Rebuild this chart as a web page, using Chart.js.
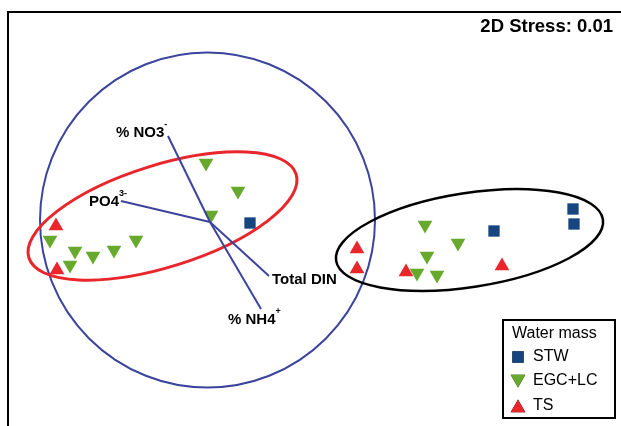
<!DOCTYPE html>
<html>
<head>
<meta charset="utf-8">
<script src="https://cdn.jsdelivr.net/npm/chart.js@4"></script>
<style>
  html, body { margin: 0; padding: 0; background: #fff; overflow: hidden; }
  #wrap { width: 621px; height: 426px; }
</style>
</head>
<body>
<div id="wrap"><canvas id="mds" width="621" height="426"></canvas></div>
<script>
// nMDS ordination coordinates (arbitrary units)
var stwPoints = [[242, 203], [486, 195], [565, 217], [566, 202]];
var egcPoints = [[198, 263], [230, 235], [203, 211], [42, 186], [67, 175], [62, 161],
                 [85, 170], [106, 176], [128, 186], [417, 201], [450, 183], [419, 170],
                 [409, 153], [429, 151]];
var tsPoints = [[48, 200], [49, 156], [349, 177], [349, 157], [398, 154], [494, 160]];

// vector overlay (origin + end of each variable)
var vectorOrigin = [202, 204];
var vectorNames = ['% NO3', '% NH4', 'PO4', 'Total DIN'];
var vectorEnds = [[160, 290], [253, 117], [113, 225], [261, 150]];

// correlation circle and cluster ellipses: [cx, cy, a, b, angleDeg]
var circle = [199.5, 206, 167.5];
var redEllipse = [154.5, 210, 140, 51, 17.35];
var blackEllipse = [461.5, 186, 135, 47, 8.8];

var stressText = '2D Stress: 0.01';

var BLUE_LINE = '#3b449c';
var STW_COL = '#17457f';
var EGC_COL = '#67a92d';
var TS_COL = '#e8262b';
var FONT = '"Liberation Sans", Arial, sans-serif';

function toXY(arr) {
    return arr.map(function (p) { return { x: p[0], y: p[1] }; });
}

var vectorSets = vectorEnds.map(function (e, i) {
    return {
        type: 'line',
        label: vectorNames[i],
        data: [{ x: vectorOrigin[0], y: vectorOrigin[1] }, { x: e[0], y: e[1] }],
        borderColor: BLUE_LINE,
        borderWidth: 2,
        pointRadius: 0,
        showLine: true,
        fill: false
    };
});

var shapesPlugin = {
    id: 'shapes',
    beforeDatasetsDraw: function (chart) {
        var ctx = chart.ctx, xs = chart.scales.x, ys = chart.scales.y;
        var ppu = xs.getPixelForValue(1) - xs.getPixelForValue(0);
        ctx.save();
        // frame
        ctx.strokeStyle = '#000';
        ctx.lineWidth = 2;
        ctx.beginPath();
        ctx.moveTo(chart.chartArea.left, chart.chartArea.bottom + 5);
        ctx.lineTo(chart.chartArea.left, chart.chartArea.top);
        ctx.lineTo(chart.chartArea.right + 5, chart.chartArea.top);
        ctx.stroke();

        ctx.beginPath();
        ctx.strokeStyle = BLUE_LINE;
        ctx.lineWidth = 2;
        ctx.arc(xs.getPixelForValue(circle[0]), ys.getPixelForValue(circle[1]), circle[2] * ppu, 0, Math.PI * 2);
        ctx.stroke();

        [[redEllipse, TS_COL, 3], [blackEllipse, '#000', 2.5]].forEach(function (d) {
            var e = d[0];
            ctx.beginPath();
            ctx.strokeStyle = d[1];
            ctx.lineWidth = d[2];
            ctx.ellipse(xs.getPixelForValue(e[0]), ys.getPixelForValue(e[1]),
                e[2] * ppu, e[3] * ppu, -e[4] * Math.PI / 180, 0, Math.PI * 2);
            ctx.stroke();
        });
        ctx.restore();
    },
    afterDatasetsDraw: function (chart) {
        var ctx = chart.ctx, xs = chart.scales.x, ys = chart.scales.y;
        ctx.save();
        ctx.fillStyle = '#000';
        ctx.textBaseline = 'middle';

        // vector labels with super scripts
        var labels = [
            { i: 0, dx: -52, dy: -3, sup: '-' },
            { i: 1, dx: -33, dy: 11, sup: '+' },
            { i: 2, dx: -32, dy: 1, sup: '3-' },
            { i: 3, dx: 3, dy: 4, sup: '' }
        ];
        labels.forEach(function (l) {
            var e = vectorEnds[l.i];
            var px = xs.getPixelForValue(e[0]) + l.dx;
            var py = ys.getPixelForValue(e[1]) + l.dy;
            ctx.font = 'bold 15px ' + FONT;
            ctx.textAlign = 'left';
            ctx.fillText(vectorNames[l.i], px, py);
            if (l.sup) {
                var w = ctx.measureText(vectorNames[l.i]).width;
                ctx.font = 'bold 9px ' + FONT;
                ctx.fillText(l.sup, px + w, py - 8);
            }
        });

        ctx.font = 'bold 18.5px ' + FONT;
        ctx.textAlign = 'right';
        ctx.fillText(stressText, 613, 27);

        // legend box
        ctx.lineWidth = 2;
        ctx.strokeStyle = '#000';
        ctx.fillStyle = '#fff';
        ctx.fillRect(503, 320, 112, 98);
        ctx.strokeRect(503, 320, 112, 98);
        ctx.fillStyle = '#000';
        ctx.textAlign = 'left';
        ctx.font = '16px ' + FONT;
        ctx.fillText('Water mass', 512, 334);
        var sets = chart.data.datasets.filter(function (d) { return d.type === 'scatter'; });
        var rowY = [357, 381, 406];
        sets.forEach(function (d, k) {
            var yy = rowY[k];
            var off = d.pointStyle === 'triangle' ? (d.rotation ? -2 : 2) : 0;
            Chart.helpers.drawPoint(ctx, {
                pointStyle: d.pointStyle,
                rotation: d.rotation || 0,
                radius: d.pointRadius,
                borderWidth: 0
            }, 518, yy + off);
            ctx.fillStyle = d.backgroundColor;
            ctx.fill();
            ctx.fillStyle = '#000';
            ctx.font = '16px ' + FONT;
            ctx.fillText(d.label, 533, yy);
        });
        ctx.restore();
    }
};

new Chart(document.getElementById('mds'), {
    type: 'scatter',
    data: {
        datasets: vectorSets.concat([
            {
                type: 'scatter',
                label: 'STW',
                data: toXY(stwPoints),
                pointStyle: 'rect',
                pointRadius: 8,
                backgroundColor: STW_COL,
                borderColor: STW_COL,
                borderWidth: 0
            },
            {
                type: 'scatter',
                label: 'EGC+LC',
                data: toXY(egcPoints),
                pointStyle: 'triangle',
                rotation: 180,
                pointRadius: 8.5,
                backgroundColor: EGC_COL,
                borderColor: EGC_COL,
                borderWidth: 0
            },
            {
                type: 'scatter',
                label: 'TS',
                data: toXY(tsPoints),
                pointStyle: 'triangle',
                pointRadius: 8.5,
                backgroundColor: TS_COL,
                borderColor: TS_COL,
                borderWidth: 0
            }
        ])
    },
    options: {
        responsive: false,
        animation: false,
        layout: { autoPadding: false, padding: { left: 8, top: 12, right: 0, bottom: 0 } },
        scales: {
            x: { type: 'linear', min: 0, max: 613, display: false },
            y: { type: 'linear', min: 0, max: 414, display: false }
        },
        plugins: {
            legend: { display: false },
            tooltip: { enabled: false }
        }
    },
    plugins: [shapesPlugin]
});
</script>
</body>
</html>
